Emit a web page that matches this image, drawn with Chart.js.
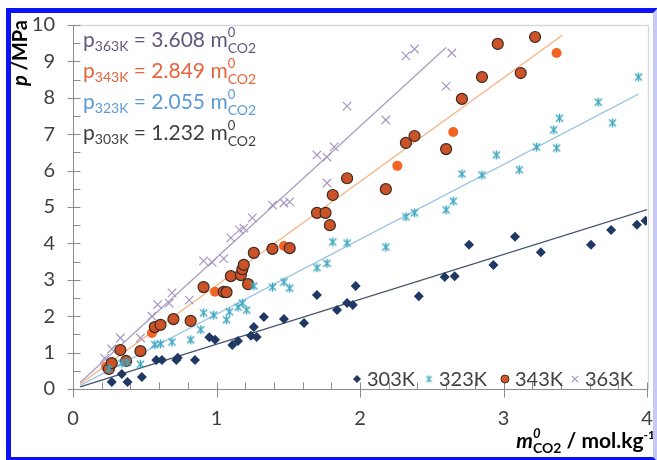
<!DOCTYPE html>
<html><head><meta charset="utf-8">
<script src="https://cdn.jsdelivr.net/npm/chart.js@4.4.0/dist/chart.umd.min.js"></script>
<style>
html,body{margin:0;padding:0;background:#fff;overflow:hidden;width:657px;height:460px}
#c{position:absolute;left:0;top:0}
#frame{position:absolute;left:6px;top:8px;width:642px;height:444px;border:5px solid #0a14f5;border-right-color:#c8c8f4;pointer-events:none}
</style></head>
<body>
<canvas id="c" width="657" height="460"></canvas>
<div id="frame"></div>
<script>
// ---- data ----
const seriesNames = ['303K', '323K', '343K', '363K'];
const slopes = ['3.608', '2.849', '2.055', '1.232']; // 363K,343K,323K,303K
const xTicks = [0, 1, 2, 3, 4];
const yTicks = [0, 1, 2, 3, 4, 5, 6, 7, 8, 9, 10];

const pts303 = [[0.27,0.19],[0.34,0.41],[0.38,0.19],[0.48,0.33],[0.58,0.80],[0.62,0.80],[0.72,0.80],[0.73,0.86],[0.85,0.80],[0.95,1.42],[0.99,1.35],[1.11,1.21],[1.15,1.32],[1.24,1.46],[1.26,1.70],[1.28,1.43],[1.33,1.98],[1.47,1.92],[1.61,1.81],[1.70,2.58],[1.84,2.17],[1.91,2.36],[1.95,2.31],[1.97,2.83],[2.41,2.55],[2.59,3.08],[2.66,3.10],[2.76,3.96],[2.93,3.41],[3.08,4.18],[3.26,3.76],[3.61,3.96],[3.75,4.37],[3.93,4.51],[3.99,4.62]];
const pts323 = [[0.25,0.55],[0.34,0.71],[0.38,0.74],[0.47,0.68],[0.57,1.22],[0.61,1.24],[0.69,1.29],[0.82,1.35],[0.89,1.63],[0.91,2.09],[0.98,2.03],[1.07,1.90],[1.09,2.12],[1.15,2.25],[1.18,2.36],[1.21,2.17],[1.26,2.83],[1.39,2.80],[1.47,2.94],[1.51,2.77],[1.70,3.33],[1.77,3.45],[1.81,4.04],[1.91,4.01],[2.18,3.90],[2.32,4.73],[2.38,4.84],[2.60,4.92],[2.65,5.16],[2.71,5.91],[2.85,5.88],[3.11,6.02],[2.95,6.43],[3.23,6.65],[3.37,6.62],[3.35,7.12],[3.39,7.44],[3.66,7.88],[3.76,7.31],[3.94,8.57]];
const pts343 = [[0.25,0.55],[0.27,0.71],[0.33,1.07],[0.37,0.77],[0.47,1.04],[0.57,1.70],[0.61,1.76],[0.70,1.92],[0.82,1.87],[0.91,2.80],[1.05,2.67],[1.07,2.66],[1.10,3.10],[1.17,3.13],[1.18,3.29],[1.19,3.41],[1.22,2.88],[1.26,3.74],[1.39,3.85],[1.51,3.87],[1.70,4.84],[1.76,4.84],[1.79,4.50],[1.81,5.33],[1.91,5.79],[2.18,5.49],[2.32,6.76],[2.38,6.95],[2.60,6.59],[2.71,7.97],[2.85,8.57],[2.96,9.48],[3.12,8.68],[3.22,9.67]];
const pts343b = [[0.23,0.61],[0.55,1.54],[0.99,2.67],[1.47,3.93],[2.26,6.13],[2.65,7.06],[3.37,9.23]];
const pts363 = [[0.22,0.85],[0.27,1.10],[0.33,1.40],[0.47,1.40],[0.55,2.00],[0.59,2.32],[0.67,2.36],[0.69,2.64],[0.81,2.44],[0.91,3.52],[0.97,3.48],[1.05,3.58],[1.10,4.15],[1.16,4.37],[1.19,4.42],[1.25,4.70],[1.39,5.05],[1.47,5.11],[1.51,5.14],[1.77,5.66],[1.70,6.43],[1.77,6.37],[1.82,6.65],[1.91,7.77],[2.18,7.39],[2.32,9.15],[2.38,9.34],[2.60,8.32],[2.64,9.23]];
// fitted line endpoints
const fit363 = [[0.05,0.18],[2.60,9.38]];
const fit343 = [[0.05,0.14],[3.41,9.72]];
const fit323 = [[0.05,0.10],[3.94,8.10]];
const fit303 = [[0.05,0.06],[4.00,4.93]];

const toXY = a => a.map(p => ({x: p[0], y: p[1]}));

// asterisk marker (x with vertical bar)
function makeStar(size, color, lw) {
  const cv = document.createElement('canvas');
  cv.width = size; cv.height = size;
  const g = cv.getContext('2d');
  g.strokeStyle = color; g.lineWidth = lw;
  const m = size / 2, r = size / 2 - 1;
  g.beginPath();
  g.moveTo(m - r * 0.8, m - r * 0.8); g.lineTo(m + r * 0.8, m + r * 0.8);
  g.moveTo(m + r * 0.8, m - r * 0.8); g.lineTo(m - r * 0.8, m + r * 0.8);
  g.moveTo(m, m - r); g.lineTo(m, m + r);
  g.stroke();
  return cv;
}
const starBig = makeStar(11, '#3fa7bf', 1.4);
const starSmall = makeStar(9, '#3fa7bf', 1.2);

const FONT = 'Lato, "Open Sans", sans-serif';

function lineDS(pts, color) {
  return {type: 'line', data: toXY(pts), borderColor: color, borderWidth: 1.3, pointRadius: 0, fill: false, order: 10, showLine: true};
}

function drawRich(ctx, x, y, segs, color) {
  ctx.fillStyle = color;
  ctx.textBaseline = 'alphabetic';
  ctx.textAlign = 'left';
  for (const s of segs) {
    ctx.font = (s.it ? 'italic ' : '') + (s.b ? 'bold ' : '') + s.s + 'px ' + FONT;
    ctx.fillText(s.t, x, y + (s.dy || 0));
    if (!s.keep) x += ctx.measureText(s.t).width;
  }
  return x;
}
function richWidth(ctx, segs) {
  let w = 0;
  for (const s of segs) {
    ctx.font = (s.it ? 'italic ' : '') + (s.b ? 'bold ' : '') + s.s + 'px ' + FONT;
    if (!s.keep) w += ctx.measureText(s.t).width;
  }
  return w;
}

const decor = {
  id: 'decor',
  beforeDatasetsDraw(chart) {
    const ctx = chart.ctx, xs = chart.scales.x, ys = chart.scales.y;
    const L = Math.round(xs.getPixelForValue(0)) + 0.5;
    const R = Math.round(xs.getPixelForValue(4)) + 0.5;
    const B = Math.round(ys.getPixelForValue(0)) + 0.5;
    const T = Math.round(ys.getPixelForValue(10)) + 0.5;
    ctx.save();
    // plot border (top/right)
    ctx.strokeStyle = '#d9d9d9'; ctx.lineWidth = 1.5;
    ctx.beginPath(); ctx.moveTo(L, T); ctx.lineTo(R + 1, T); ctx.lineTo(R + 1, B); ctx.stroke();
    ctx.strokeStyle = '#8c8c8c'; ctx.lineWidth = 1;
    ctx.beginPath();
    ctx.moveTo(L, T); ctx.lineTo(L, B); ctx.lineTo(R, B);
    for (let v = 0; v <= 10.001; v += 0.5) {
      const y = Math.round(ys.getPixelForValue(v)) + 0.5;
      const major = Math.abs(v - Math.round(v)) < 1e-6;
      ctx.moveTo(major ? L - 6 : L, y); ctx.lineTo(L + 7, y);
    }
    for (let i = 0; i <= 20; i++) {
      const v = i * 0.2;
      const x = Math.round(xs.getPixelForValue(v)) + 0.5;
      const major = i % 5 === 0;
      ctx.moveTo(x, B - 7); ctx.lineTo(x, major ? B + 8 : B);
    }
    ctx.stroke();
    ctx.restore();
  },
  afterDraw(chart) {
    const ctx = chart.ctx;
    ctx.save();
    // equations
    const cols = ['#62567c', '#e8643c', '#5b9bd5', '#404040'];
    const subs = ['363K', '343K', '323K', '303K'];
    const base = [47, 78, 109, 140];
    for (let i = 0; i < 4; i++) {
      drawRich(ctx, 83, base[i], [
        {t: 'p', s: 21}, {t: subs[i], s: 14, dy: 4},
        {t: ' = ' + slopes[i] + ' m', s: 21},
        {t: '0', s: 13, dy: -10, keep: true}, {t: 'CO2', s: 14, dy: 6}
      ], cols[i]);
    }
    // y title
    ctx.save();
    ctx.translate(27, 20);
    ctx.rotate(-Math.PI / 2);
    const ysegs = [{t: 'p', s: 20, it: true, b: true}, {t: ' /MPa', s: 20, b: true}];
    const yw = richWidth(ctx, ysegs);
    drawRich(ctx, -yw, 0, ysegs, '#000');
    ctx.restore();
    // x title
    const xsegs = [{t: 'm', s: 21, it: true, b: true}, {t: '0', s: 13, it: true, b: true, dy: -10, keep: true},
      {t: 'CO2', s: 14, b: true, dy: 5}, {t: ' / mol.kg', s: 21, b: true}, {t: '-1', s: 12, b: true, dy: -9}];
    const xw = richWidth(ctx, xsegs);
    drawRich(ctx, 655 - xw, 448, xsegs, '#000');
    // legend
    const H = Chart.helpers;
    const ly = 379;
    const items = [
      {mx: 357, tx: 367, name: seriesNames[0]},
      {mx: 429, tx: 439, name: seriesNames[1]},
      {mx: 505, tx: 515, name: seriesNames[2]},
      {mx: 575, tx: 585, name: seriesNames[3]}
    ];
    ctx.fillStyle = '#1f3864';
    H.drawPoint(ctx, {pointStyle: 'rectRot', radius: 4, borderWidth: 0}, items[0].mx, ly);
    ctx.drawImage(starSmall, items[1].mx - 4.5, ly - 4.5);
    ctx.fillStyle = '#d2582a'; ctx.strokeStyle = '#4a3020'; ctx.lineWidth = 1;
    H.drawPoint(ctx, {pointStyle: 'circle', radius: 4, borderWidth: 1}, items[2].mx, ly);
    ctx.strokeStyle = '#a596c0'; ctx.lineWidth = 1.1;
    H.drawPoint(ctx, {pointStyle: 'crossRot', radius: 4.5, borderWidth: 1.1}, items[3].mx, ly);
    ctx.fillStyle = '#404040';
    ctx.font = '20px ' + FONT;
    ctx.textBaseline = 'alphabetic';
    for (const it of items) ctx.fillText(it.name, it.tx, ly + 7);
    ctx.restore();
  }
};

new Chart(document.getElementById('c'), {
  type: 'scatter',
  data: {
    datasets: [
      {label: seriesNames[0], data: toXY(pts303), pointStyle: 'rectRot', pointRadius: 5, backgroundColor: '#1f3864', borderColor: '#1f3864', borderWidth: 0, order: 1},
      {label: seriesNames[1], data: toXY(pts323), pointStyle: starBig, pointRadius: 5, backgroundColor: '#3fa7bf', borderColor: '#3fa7bf', order: 1},
      {label: seriesNames[2] + 'b', data: toXY(pts343b), pointStyle: 'circle', pointRadius: 5, backgroundColor: '#f26424', borderColor: '#f26424', borderWidth: 0, order: 2},
      {label: seriesNames[2], data: toXY(pts343), pointStyle: 'circle', pointRadius: 5.5, backgroundColor: '#cc5228', borderColor: '#3b2a22', borderWidth: 1.2, order: 1},
      {label: seriesNames[3], data: toXY(pts363), pointStyle: 'crossRot', pointRadius: 6, backgroundColor: '#a596c0', borderColor: '#a596c0', borderWidth: 1.2, order: 1},
      lineDS(fit363, '#aa9dc2'),
      lineDS(fit343, '#f6b184'),
      lineDS(fit323, '#9fc5e6'),
      lineDS(fit303, '#44546a')
    ]
  },
  options: {
    responsive: false,
    animation: false,
    events: [],
    layout: {padding: {top: 25, right: 10, left: 0, bottom: 0}},
    plugins: {legend: {display: false}, tooltip: {enabled: false}},
    scales: {
      x: {
        type: 'linear', min: 0, max: 4,
        afterBuildTicks: s => { s.ticks = xTicks.map(v => ({value: v})); },
        afterFit: s => { s.height = 71; s.paddingLeft = 0; s.paddingRight = 0; },
        grid: {display: false, drawTicks: false},
        border: {display: false},
        ticks: {font: {family: FONT, size: 20}, color: '#404040', padding: 18, maxRotation: 0, autoSkip: false}
      },
      y: {
        type: 'linear', min: 0, max: 10,
        afterBuildTicks: s => { s.ticks = yTicks.map(v => ({value: v})); },
        afterFit: s => { s.width = 73; s.paddingTop = 0; s.paddingBottom = 0; },
        grid: {display: false, drawTicks: false},
        border: {display: false},
        ticks: {font: {family: FONT, size: 20}, color: '#404040', padding: 18, autoSkip: false}
      }
    }
  },
  plugins: [decor]
});
</script>
</body></html>
